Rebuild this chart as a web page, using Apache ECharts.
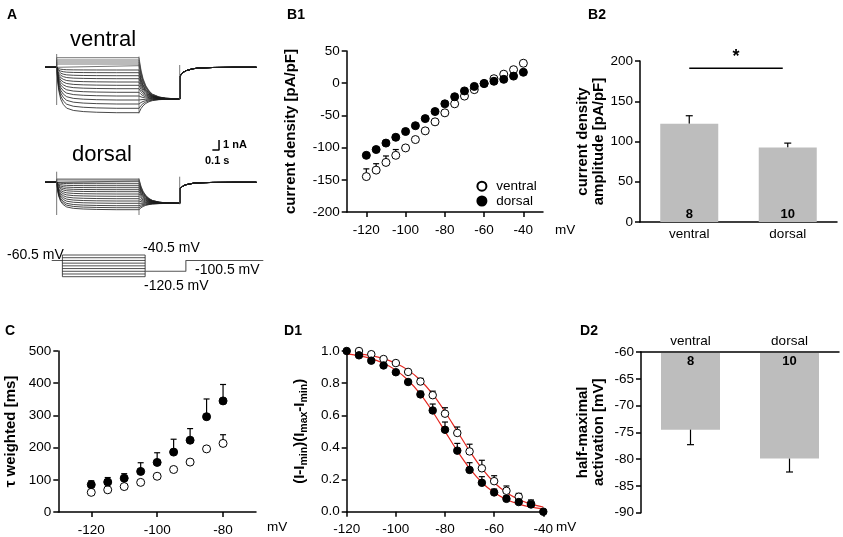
<!DOCTYPE html>
<html><head><meta charset="utf-8">
<script src="https://cdn.jsdelivr.net/npm/echarts@6/dist/echarts.min.js"></script>
<style>html,body{margin:0;padding:0;background:#fff}#c{width:843px;height:537px}</style>
</head><body><div id="c"></div>
<script>
// ================= DATA =================
// B1: current density vs voltage
const ivVolt = [-120,-115,-110,-105,-100,-95,-90,-85,-80,-75,-70,-65,-60,-55,-50,-45,-40];
const ivVentral = [-145,-135,-123,-112,-100.5,-87.5,-74,-60,-46,-32,-20,-10,-0.5,7,14,21,31];
const ivVentralErr = [12,10,10,9,3,2,0,0,0,0,0,0,0,0,0,0,0];
const ivDorsal = [-112,-103,-93,-84,-75,-66,-55,-44,-32,-21,-12,-5,-0.5,3,6,11,17];
const ivTicks = [-120,-100,-80,-60,-40];

// B2 / D2 groups
const groups = ['ventral','dorsal'];
const cellN = [8,10];
const ampMean = [122,92.5];
const ampErr = [10,5.5];
const sigLevel = 191;
const halfMean = [-74.5,-79.9];
const halfErr = [2.8,2.5];

// C: tau weighted
const tauVolt = [-120,-115,-110,-105,-100,-95,-90,-85,-80];
const tauVentral = [61,69,79,92,111,132,155,196,213];
const tauVentralErr = [0,0,0,0,0,0,0,0,27];
const tauDorsal = [85,93,105,126,154,186,223,296,345];
const tauDorsalErr = [12,14,14,27,30,40,36,55,51];
const tauTicks = [-120,-100,-80];

// D1: activation
const actVoltVentral = [-115,-110,-105,-100,-95,-90,-85,-80,-75,-70,-65,-60,-55,-50,-45];
const actVentral = [1.0,0.98,0.95,0.925,0.87,0.81,0.725,0.61,0.49,0.375,0.27,0.19,0.13,0.093,0.05];
const actVentralErr = [0,0,0,0,0,0.02,0.025,0.037,0.037,0.045,0.05,0.034,0.03,0.021,0.023];
const actVoltDorsal = [-120,-115,-110,-105,-100,-95,-90,-85,-80,-75,-70,-65,-60,-55,-50,-45,-40];
const actDorsal = [1.0,0.973,0.94,0.91,0.868,0.807,0.73,0.63,0.51,0.38,0.26,0.18,0.12,0.08,0.06,0.045,0.0];
const actDorsalErr = [0,0,0,0,0,0.01,0.02,0.04,0.048,0.045,0.045,0.038,0.021,0.02,0.017,0.02,0];
const fitVoltVentral = [-115,-110,-105,-100,-95,-90,-85,-80,-75,-70,-65,-60,-55,-50,-45,-40];
const fitVentral = [0.982,0.971,0.953,0.924,0.881,0.818,0.731,0.622,0.5,0.378,0.269,0.182,0.119,0.076,0.047,0.029];
const fitVoltDorsal = [-120,-115,-110,-105,-100,-95,-90,-85,-80,-75,-70,-65,-60,-55,-50,-45,-40];
const fitDorsal = [0.982,0.971,0.953,0.924,0.881,0.818,0.731,0.622,0.5,0.378,0.269,0.182,0.119,0.076,0.047,0.029,0.018];

// A: example current traces (nA) and voltage protocol
const traceTimes = [0, 0.175, 1.41, 2.02, 3.17]; // start, step on, step off, tail end, end (s)
const ventralUpper = [0.96,0.73,0.53,0.33,0.16];
const ventralLower = [-0.27,-0.54,-0.84,-1.14,-1.47,-1.8,-2.14,-2.5,-2.87,-3.27,-3.67,-4.1,-4.54];
const ventralTailPost = [-3.17,-0.94];
const ventralSpikes = [[0.175,1.33,-3.77],[1.41,1.07,-4.6],[2.02,0.23,-3.27]];
const dorsalUpper = [0.33,0.23,0.13,0.06];
const dorsalLower = [-0.14,-0.34,-0.54,-0.74,-0.94,-1.17,-1.4,-1.64,-1.87,-2.1,-2.34,-2.54,-2.74];
const dorsalTailPost = [-2.1,-0.67];
const dorsalSpikes = [[0.175,1.06,-3.27],[1.41,0.4,-3.27],[2.02,0.56,-2.2]];
const onsetT = [0,0.015,0.03,0.06,0.1,0.15,0.25,0.4,0.6,0.9];
const onsetFrac = [0,0.3,0.5,0.7,0.82,0.9,0.95,0.975,0.99,1];
const tailT = [0,0.03,0.06,0.1,0.15,0.2,0.3,0.4,0.61];
const tailFrac = [0,0.3,0.5,0.67,0.8,0.88,0.95,0.98,1];
const recT = [0,0.03,0.06,0.1,0.2,0.3,0.5,0.8,1.15];
const recFrac = [0,0.3,0.5,0.65,0.85,0.93,0.98,1,1];
const scaleBarT = [2.51,2.61];
const scaleBarNA = [3.23,4.23];
const protTimes = [0, 0.16, 1.40, 2.01, 3.17];
const protSteps = [-40.5,-50.5,-60.5,-70.5,-80.5,-90.5,-100.5,-110.5,-120.5];
const protHold = -60.5;
const protTail = -100.5;

// ================= BUILD =================
const FONT = '"Liberation Sans", Arial, Helvetica, sans-serif';
const BAR = '#bdbdbd';
const zip = (a,b) => a.map((v,i)=>[v,b[i]]);
const zipErr = (a,b,e,sign) => a.map((v,i)=>[v,b[i],b[i]+(sign||1)*e[i]]);

function buildSweep(level, upper, tp) {
  const [t0,t1,t2,t3,t4] = traceTimes;
  const pts = [[t0,0],[t1,0]];
  if (upper) { pts.push([t1,level]); }
  else { onsetT.forEach((t,i)=>pts.push([t1+t,level*onsetFrac[i]])); }
  pts.push([t2,level]);
  tailT.forEach((t,i)=>pts.push([t2+t, level+(tp[0]-level)*tailFrac[i]]));
  pts.push([t3,tp[0]]); pts.push([t3,tp[1]]);
  recT.forEach((t,i)=>pts.push([t3+t, tp[1]*(1-recFrac[i])]));
  pts.push([t4,0]);
  return pts;
}
function lineS(idx, data, color, width, extra) {
  return Object.assign({type:'line', xAxisIndex:idx, yAxisIndex:idx, data, symbol:'none', silent:true, clip:false,
    lineStyle:{color, width}, z:2}, extra||{});
}
const series = [];
// A traces
[[0, ventralUpper, ventralLower, ventralTailPost, ventralSpikes],[1, dorsalUpper, dorsalLower, dorsalTailPost, dorsalSpikes]].forEach(([g,up,low,tp,sp])=>{
  up.forEach(l=>series.push(lineS(g, buildSweep(l,true,tp), '#3a3a3a', 0.7)));
  low.forEach(l=>series.push(lineS(g, buildSweep(l,false,tp), '#1a1a1a', 0.8)));
  sp.forEach(s=>series.push(lineS(g, [[s[0],s[1]],[s[0],s[2]]], '#555', 0.8)));
});
series.push(lineS(1, [[scaleBarT[0],scaleBarNA[0]],[scaleBarT[1],scaleBarNA[0]],[scaleBarT[1],scaleBarNA[1]]], '#000', 1.5));
// protocol
{
  const [p0,p1,p2,p3,p4] = protTimes;
  series.push(lineS(2, [[p0,protHold],[p1,protHold]], '#555', 1.1));
  protSteps.forEach(v=>series.push(lineS(2, [[p1,v],[p2,v]], '#222', 0.8)));
  series.push(lineS(2, [[p1,protSteps[0]],[p1,protSteps[protSteps.length-1]]], '#222', 0.8));
  series.push(lineS(2, [[p2,protSteps[0]],[p2,protSteps[protSteps.length-1]]], '#222', 0.8));
  series.push(lineS(2, [[p2,protTail],[p3,protTail],[p3,protHold],[p4,protHold]], '#555', 1.1));
}

function errSeries(idx, data, hw) {
  return {type:'custom', xAxisIndex:idx, yAxisIndex:idx, data, z:2, silent:true, clip:false,
    encode:{x:0,y:[1,2]},
    renderItem:(p,api)=>{
      const a=api.coord([api.value(0),api.value(1)]), b=api.coord([api.value(0),api.value(2)]);
      if (Math.abs(a[1]-b[1])<0.5) return {type:'group',children:[]};
      return {type:'group',children:[
        {type:'line',shape:{x1:a[0],y1:a[1],x2:b[0],y2:b[1]},style:{stroke:'#000',lineWidth:1.2}},
        {type:'line',shape:{x1:b[0]-hw,y1:b[1],x2:b[0]+hw,y2:b[1]},style:{stroke:'#000',lineWidth:1.2}}]};
    }};
}
const openStyle = {color:'#fff', borderColor:'#000', borderWidth:1, opacity:1};
const fillStyle = {color:'#000', borderColor:'#000', borderWidth:1, opacity:1};
function scat(idx, name, data, style, size, z) {
  return {type:'scatter', name, xAxisIndex:idx, yAxisIndex:idx, data, symbol:'circle', symbolSize:size,
    itemStyle:style, z:z||3, silent:true, clip:false};
}
// B1 (grid 3)
series.push(scat(3,'ventral', zip(ivVolt,ivVentral), openStyle, 8, 3));
series.push(scat(3,'dorsal', zip(ivVolt,ivDorsal), fillStyle, 8, 4));
series.push(errSeries(3, zipErr(ivVolt,ivVentral,ivVentralErr), 3));
// B2 (grid 4)
series.push({type:'bar', xAxisIndex:4, yAxisIndex:4, data:ampMean, barWidth:58, itemStyle:{color:BAR}, silent:true,
  label:{show:true, position:'insideBottom', distance:1, formatter:p=>String(cellN[p.dataIndex]),
    fontWeight:'bold', fontSize:13, color:'#000', fontFamily:FONT}});
series.push(errSeries(4, ampMean.map((v,i)=>[i,v,v+ampErr[i]]), 3.5));
series.push({type:'custom', xAxisIndex:4, yAxisIndex:4, data:[[0,1,sigLevel]], silent:true, z:3, clip:false,
  renderItem:(p,api)=>{
    const a=api.coord([api.value(0),api.value(2)]), b=api.coord([api.value(1),api.value(2)]);
    return {type:'group',children:[
      {type:'line',shape:{x1:a[0],y1:a[1],x2:b[0]-5,y2:b[1]},style:{stroke:'#000',lineWidth:1.5}},
      {type:'text',x:(a[0]+b[0]-5)/2,y:a[1]-2,style:{text:'*',font:'bold 18px '+FONT,fill:'#000',align:'center',verticalAlign:'bottom'}}]};
  }});
// C (grid 5)
series.push(errSeries(5, zipErr(tauVolt,tauDorsal,tauDorsalErr), 3));
series.push(errSeries(5, zipErr(tauVolt,tauVentral,tauVentralErr), 3));
series.push(scat(5,'C ventral', zip(tauVolt,tauVentral), openStyle, 8, 3));
series.push(scat(5,'C dorsal', zip(tauVolt,tauDorsal), fillStyle, 8, 3));
// D1 (grid 6)
series.push(lineS(6, zip(fitVoltVentral,fitVentral), '#e3261f', 1.2, {smooth:0.3, z:1}));
series.push(lineS(6, zip(fitVoltDorsal,fitDorsal), '#e3261f', 1.2, {smooth:0.3, z:1}));
series.push(errSeries(6, zipErr(actVoltDorsal,actDorsal,actDorsalErr), 3));
series.push(errSeries(6, zipErr(actVoltVentral,actVentral,actVentralErr), 3));
series.push(scat(6,'D ventral', zip(actVoltVentral,actVentral), openStyle, 7.5, 3));
series.push(scat(6,'D dorsal', zip(actVoltDorsal,actDorsal), fillStyle, 7.5, 4));
// D2 (grid 7)
series.push({type:'custom', xAxisIndex:7, yAxisIndex:7, data:halfMean.map((v,i)=>[i,v]), silent:true, z:2, clip:false,
  encode:{x:0,y:1},
  renderItem:(p,api)=>{
    const i=api.value(0), v=api.value(1);
    const a=api.coord([i,-60]), b=api.coord([i,v]), w=59;
    return {type:'group',children:[
      {type:'rect',shape:{x:a[0]-w/2,y:a[1]+1,width:w,height:b[1]-a[1]-1},style:{fill:BAR}},
      {type:'text',x:a[0],y:a[1]+3,style:{text:String(cellN[i]),font:'bold 13px '+FONT,fill:'#000',align:'center',verticalAlign:'top'}}]};
  }});
series.push(errSeries(7, halfMean.map((v,i)=>[i,v,v-halfErr[i]]), 3.5));

// ================= AXES =================
function vAxis(idx, o) {
  const base = {type:'value', gridIndex:idx, splitLine:{show:false},
    axisLine:{show:true,onZero:false,lineStyle:{color:'#000',width:1.5}},
    axisTick:{show:true,length:5,lineStyle:{color:'#000',width:1.5}},
    axisLabel:{color:'#000',fontSize:13.5,fontFamily:FONT,margin:7},
    nameTextStyle:{color:'#000',fontSize:15,fontWeight:'bold',fontFamily:FONT}};
  for (const k in o) {
    if (base[k] && typeof base[k]==='object' && !Array.isArray(base[k]) && typeof o[k]==='object') base[k]=Object.assign({},base[k],o[k]);
    else base[k]=o[k];
  }
  return base;
}
const hidden = (idx,min,max)=>({type:'value', gridIndex:idx, show:false, min, max});
const grids = [
  {left:45, top:52.3, width:211.7, height:70},
  {left:45, top:130, width:211.7, height:90},
  {left:51.7, top:255, width:211.6, height:21.7},
  {left:346.7, top:51, width:196.3, height:161},
  {left:640, top:61, width:197, height:161},
  {left:58.3, top:351, width:197.7, height:161},
  {left:346.7, top:351, width:196.6, height:160.7},
  {left:641, top:352, width:198, height:160.7}
].map(g=>Object.assign(g,{containLabel:false, outerBoundsMode:'none'}));

const xAxes = [
  hidden(0,0,3.175), hidden(1,0,3.175), hidden(2,0,3.17),
  vAxis(3,{min:-130,max:-30, axisLabel:{margin:11, customValues:ivTicks}, axisTick:{customValues:ivTicks}}),
  {type:'category', gridIndex:4, data:groups, axisLine:{show:true,onZero:false,lineStyle:{color:'#000',width:1.5}},
    axisTick:{show:false}, axisLabel:{color:'#000',fontSize:13.5,fontFamily:FONT,margin:5}},
  vAxis(5,{min:-130,max:-70, axisLabel:{margin:11, customValues:tauTicks}, axisTick:{customValues:tauTicks}}),
  vAxis(6,{min:-120,max:-40, interval:20, axisLabel:{margin:11}}),
  {type:'category', gridIndex:7, data:groups, position:'top', axisLine:{show:true,onZero:false,lineStyle:{color:'#000',width:1.5}},
    axisTick:{show:false}, axisLabel:{color:'#000',fontSize:13.5,fontFamily:FONT,margin:4}}
];
const yAxes = [
  hidden(0,-5.5,1.5), hidden(1,-3.77,5.23), hidden(2,-120.5,-40.5),
  vAxis(3,{min:-200,max:50,interval:50, name:'current density [pA/pF]', nameLocation:'middle', nameGap:48}),
  vAxis(4,{min:0,max:200,interval:50, name:'current density\namplitude [pA/pF]', nameLocation:'middle', nameGap:33,
    nameTextStyle:{lineHeight:16}}),
  vAxis(5,{min:0,max:500,interval:100, name:'τ weighted [ms]', nameLocation:'middle', nameGap:40}),
  vAxis(6,{min:0,max:1,interval:0.2, axisLabel:{formatter:v=>v.toFixed(1)},
    name:'(I-I{s|min})(I{s|max}-I{s|min})', nameLocation:'middle', nameGap:37,
    nameTextStyle:{rich:{s:{fontSize:10.5,fontWeight:'bold',fontFamily:FONT,color:'#000',padding:[8,0,0,0]}}}}),
  vAxis(7,{min:-90,max:-60,interval:5, name:'half-maximal\nactivation [mV]', nameLocation:'middle', nameGap:34,
    nameTextStyle:{lineHeight:16}})
];

// ================= TEXT =================
function txt(x,y,text,font,align,valign){
  return {type:'text', x, y, silent:true, style:{text, font:font+' '+FONT, fill:'#000',
    align:align||'left', textAlign:align||'left', verticalAlign:valign||'middle', textVerticalAlign:valign||'middle'}};
}
const graphic = [
  txt(12,15,'A','bold 14px','center'), txt(296,15,'B1','bold 14px','center'), txt(597,15,'B2','bold 14px','center'),
  txt(10,331,'C','bold 14px','center'), txt(293,331,'D1','bold 14px','center'), txt(589,331,'D2','bold 14px','center'),
  txt(103,40,'ventral','22px','center'), txt(102,155,'dorsal','22px','center'),
  txt(223,145,'1 nA','bold 11px'), txt(205,160.5,'0.1 s','bold 11px'),
  txt(7,255,'-60.5 mV','14px'), txt(143,248,'-40.5 mV','14px'), txt(144,286,'-120.5 mV','14px'), txt(195,270,'-100.5 mV','14px'),
  txt(555,230.5,'mV','13.5px'), txt(267,527,'mV','13.5px'), txt(556,527,'mV','13.5px')
];

const option = {
  animation:false,
  backgroundColor:'#fff',
  textStyle:{fontFamily:FONT},
  grid:grids, xAxis:xAxes, yAxis:yAxes, series, graphic,
  legend:{data:['ventral','dorsal'], orient:'vertical', left:476.4, top:179.2, itemWidth:18.6, itemHeight:9,
    itemGap:0.8, padding:0, selectedMode:false, itemStyle:{opacity:1}, textStyle:{fontSize:13.5, color:'#000', fontFamily:FONT}}
};
const chart = echarts.init(document.getElementById('c'));
chart.setOption(option);
</script></body></html>
